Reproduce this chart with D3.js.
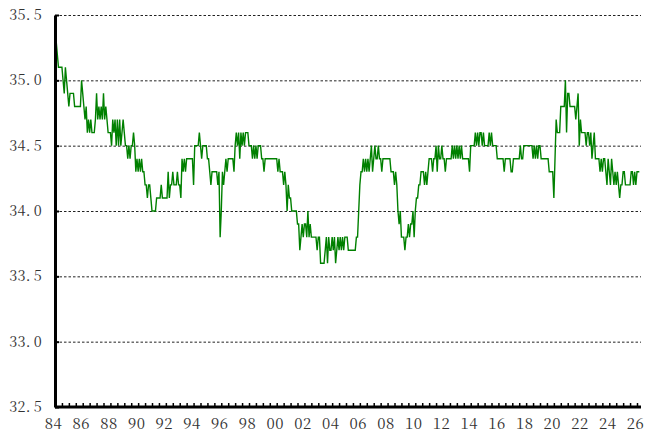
<!DOCTYPE html>
<html>
<head>
<meta charset="utf-8">
<script src="https://cdn.jsdelivr.net/npm/d3@7"></script>
<style>
  body { margin: 0; background: #fff; }
</style>
</head>
<body>
<div id="chart"></div>
<script>
// monthly values, one row per year (1984 .. 2026)
const startYear = 1984;
const monthly = [
  [35.1, 35.3, 35.2, 35.1, 35.1, 35.1, 35.1, 35.0, 34.9, 35.1, 35.0, 34.9], // 84
  [34.8, 34.9, 34.9, 34.9, 34.9, 34.8, 34.8, 34.8, 34.8, 34.8, 34.8, 35.0],
  [34.9, 34.8, 34.7, 34.8, 34.6, 34.7, 34.6, 34.7, 34.6, 34.6, 34.6, 34.7],
  [34.9, 34.7, 34.8, 34.7, 34.8, 34.7, 34.9, 34.7, 34.8, 34.7, 34.6, 34.6],
  [34.6, 34.5, 34.7, 34.6, 34.7, 34.5, 34.7, 34.5, 34.7, 34.5, 34.6, 34.7],
  [34.6, 34.5, 34.5, 34.4, 34.5, 34.4, 34.5, 34.5, 34.6, 34.5, 34.3, 34.4],
  [34.3, 34.4, 34.3, 34.4, 34.3, 34.3, 34.2, 34.2, 34.1, 34.2, 34.2, 34.1], // 90
  [34.0, 34.0, 34.0, 34.0, 34.1, 34.1, 34.1, 34.1, 34.2, 34.1, 34.1, 34.1],
  [34.1, 34.1, 34.3, 34.1, 34.2, 34.2, 34.3, 34.2, 34.2, 34.2, 34.3, 34.2],
  [34.2, 34.1, 34.4, 34.3, 34.4, 34.3, 34.4, 34.4, 34.4, 34.4, 34.4, 34.4],
  [34.2, 34.5, 34.5, 34.5, 34.5, 34.6, 34.5, 34.4, 34.5, 34.5, 34.5, 34.5],
  [34.4, 34.4, 34.3, 34.2, 34.3, 34.3, 34.3, 34.3, 34.3, 34.2, 34.3, 33.8],
  [34.0, 34.3, 34.2, 34.3, 34.4, 34.3, 34.4, 34.4, 34.4, 34.4, 34.4, 34.3],
  [34.5, 34.6, 34.5, 34.6, 34.4, 34.6, 34.5, 34.6, 34.5, 34.6, 34.6, 34.6],
  [34.5, 34.5, 34.5, 34.4, 34.5, 34.4, 34.5, 34.4, 34.5, 34.5, 34.5, 34.4],
  [34.4, 34.3, 34.4, 34.4, 34.4, 34.4, 34.4, 34.4, 34.4, 34.4, 34.4, 34.4],
  [34.4, 34.3, 34.4, 34.3, 34.3, 34.3, 34.2, 34.3, 34.2, 34.0, 34.2, 34.1], // 00
  [34.1, 34.0, 34.0, 34.0, 34.0, 34.0, 33.9, 33.9, 33.7, 33.8, 33.9, 33.8],
  [33.9, 33.9, 33.8, 34.0, 33.8, 33.9, 33.8, 33.8, 33.8, 33.8, 33.8, 33.7],
  [33.8, 33.8, 33.6, 33.6, 33.6, 33.6, 33.7, 33.8, 33.6, 33.8, 33.7, 33.7],
  [33.8, 33.7, 33.8, 33.6, 33.7, 33.8, 33.7, 33.8, 33.7, 33.8, 33.7, 33.8],
  [33.8, 33.8, 33.7, 33.7, 33.7, 33.7, 33.7, 33.7, 33.7, 33.8, 33.8, 34.0],
  [34.2, 34.3, 34.3, 34.4, 34.3, 34.4, 34.3, 34.4, 34.3, 34.4, 34.5, 34.3],
  [34.4, 34.5, 34.4, 34.4, 34.5, 34.4, 34.4, 34.3, 34.4, 34.4, 34.4, 34.4],
  [34.4, 34.4, 34.4, 34.3, 34.3, 34.3, 34.2, 34.3, 34.2, 34.0, 33.9, 34.0],
  [33.8, 33.8, 33.8, 33.7, 33.8, 33.8, 33.9, 33.8, 33.9, 33.9, 34.0, 33.8],
  [34.0, 34.1, 34.1, 34.2, 34.2, 34.3, 34.3, 34.3, 34.2, 34.3, 34.2, 34.3], // 10
  [34.4, 34.4, 34.4, 34.3, 34.4, 34.4, 34.5, 34.3, 34.5, 34.4, 34.4, 34.5],
  [34.4, 34.4, 34.3, 34.4, 34.4, 34.4, 34.4, 34.4, 34.5, 34.4, 34.5, 34.4],
  [34.5, 34.4, 34.5, 34.4, 34.5, 34.4, 34.4, 34.4, 34.4, 34.4, 34.4, 34.3],
  [34.5, 34.5, 34.5, 34.5, 34.6, 34.5, 34.6, 34.5, 34.6, 34.6, 34.5, 34.6],
  [34.5, 34.5, 34.5, 34.5, 34.6, 34.5, 34.6, 34.5, 34.5, 34.5, 34.5, 34.4],
  [34.4, 34.4, 34.4, 34.4, 34.4, 34.3, 34.4, 34.4, 34.4, 34.4, 34.4, 34.3],
  [34.3, 34.4, 34.4, 34.4, 34.4, 34.4, 34.4, 34.5, 34.4, 34.4, 34.5, 34.5],
  [34.5, 34.5, 34.5, 34.5, 34.5, 34.5, 34.4, 34.5, 34.4, 34.5, 34.4, 34.5],
  [34.5, 34.4, 34.4, 34.4, 34.4, 34.4, 34.4, 34.4, 34.3, 34.3, 34.3, 34.3],
  [34.1, 34.4, 34.7, 34.6, 34.6, 34.6, 34.8, 34.8, 34.8, 34.8, 35.0, 34.6], // 20
  [34.9, 34.9, 34.8, 34.8, 34.8, 34.8, 34.8, 34.7, 34.8, 34.9, 34.5, 34.7],
  [34.6, 34.6, 34.6, 34.6, 34.5, 34.6, 34.6, 34.5, 34.6, 34.4, 34.5, 34.6],
  [34.4, 34.4, 34.4, 34.4, 34.3, 34.4, 34.3, 34.4, 34.4, 34.3, 34.2, 34.4],
  [34.3, 34.2, 34.4, 34.3, 34.2, 34.3, 34.2, 34.3, 34.2, 34.1, 34.2, 34.2],
  [34.3, 34.3, 34.2, 34.2, 34.2, 34.2, 34.2, 34.3, 34.3, 34.2, 34.3, 34.2],
  [34.3, 34.3, 34.3] // 26
];

const yTicks = [32.5, 33.0, 33.5, 34.0, 34.5, 35.0, 35.5];
const xLabelYears = d3.range(1984, 2027, 2);

let dimensions = {
    width: 647,
    height: 440,
    left: 55,
    right: 637,
    top: 15,
    bottom: 407,
};

const labelFont = "'Noto Serif CJK JP', 'Liberation Serif', serif";

// flatten rows into points
let data = [];
monthly.forEach((row, i) => {
    row.forEach((v, m) => {
        data.push({ t: startYear + i + m / 12, v: v });
    });
});

var svg = d3.select("#chart")
    .append("svg")
    .attr("width", dimensions.width)
    .attr("height", dimensions.height);

var xScale = d3.scaleLinear()
    .domain([1984, 2026])
    .range([dimensions.left, dimensions.right]);

var yScale = d3.scaleLinear()
    .domain([32.5, 35.5])
    .range([dimensions.bottom, dimensions.top]);

// dashed grid
svg.append("g")
    .selectAll("line")
    .data(yTicks.slice(1))
    .enter()
    .append("line")
    .attr("x1", dimensions.left)
    .attr("x2", 641)
    .attr("y1", d => yScale(d) + 0.5)
    .attr("y2", d => yScale(d) + 0.5)
    .attr("stroke", "#222")
    .attr("stroke-width", 1)
    .attr("stroke-dasharray", "2.5,2");

// the line
svg.append("path")
    .datum(data)
    .attr("fill", "none")
    .attr("stroke", "#008000")
    .attr("stroke-width", 1.4)
    .attr("d", d3.line().x(d => xScale(d.t)).y(d => yScale(d.v)));

// minor ticks on x axis (half year)
var xMinor = svg.append("g")
    .attr("transform", `translate(0,${dimensions.bottom})`)
    .call(d3.axisBottom(xScale)
        .tickValues(d3.range(1984.5, 2026.4, 0.5))
        .tickSizeInner(-4)
        .tickSizeOuter(0)
        .tickFormat(""));
xMinor.select(".domain").remove();
xMinor.selectAll("line").attr("stroke", "#000").attr("stroke-width", 1.5);

// x axis
var xAxis = svg.append("g")
    .attr("transform", `translate(0,${dimensions.bottom})`)
    .call(d3.axisBottom(xScale)
        .tickValues(xLabelYears)
        .tickSize(0)
        .tickPadding(11)
        .tickFormat(d => String(d % 100).padStart(2, "0")));
xAxis.select(".domain")
    .attr("d", `M${dimensions.left},0H641`)
    .attr("stroke", "#000")
    .attr("stroke-width", 3);
xAxis.selectAll("text")
    .attr("dy", "0.72em")
    .attr("dx", -2)
    .style("font-family", labelFont)
    .style("font-size", "15px")
    .style("letter-spacing", "0.5px")
    .style("fill", "#333");

// y axis
var yAxis = svg.append("g")
    .attr("transform", `translate(${dimensions.left},0)`)
    .call(d3.axisLeft(yScale)
        .tickValues(yTicks)
        .tickSizeInner(-4)
        .tickSizeOuter(0)
        .tickPadding(13)
        .tickFormat(d3.format(".1f")));
yAxis.select(".domain").attr("stroke", "#000").attr("stroke-width", 3);
yAxis.selectAll("line").attr("stroke", "#000").attr("stroke-width", 2);
yAxis.selectAll("text")
    .style("font-family", labelFont)
    .style("font-size", "14.5px")
    .style("letter-spacing", "0.3px")
    .style("fill", "#333")
    .each(function(d) {
        // wider gap after the decimal point, like the original half-width font
        var parts = d3.format(".1f")(d).split(".");
        var t = d3.select(this).text(null);
        t.append("tspan").text(parts[0] + ".");
        t.append("tspan").attr("dx", 3).text(parts[1]);
    });
</script>
</body>
</html>
